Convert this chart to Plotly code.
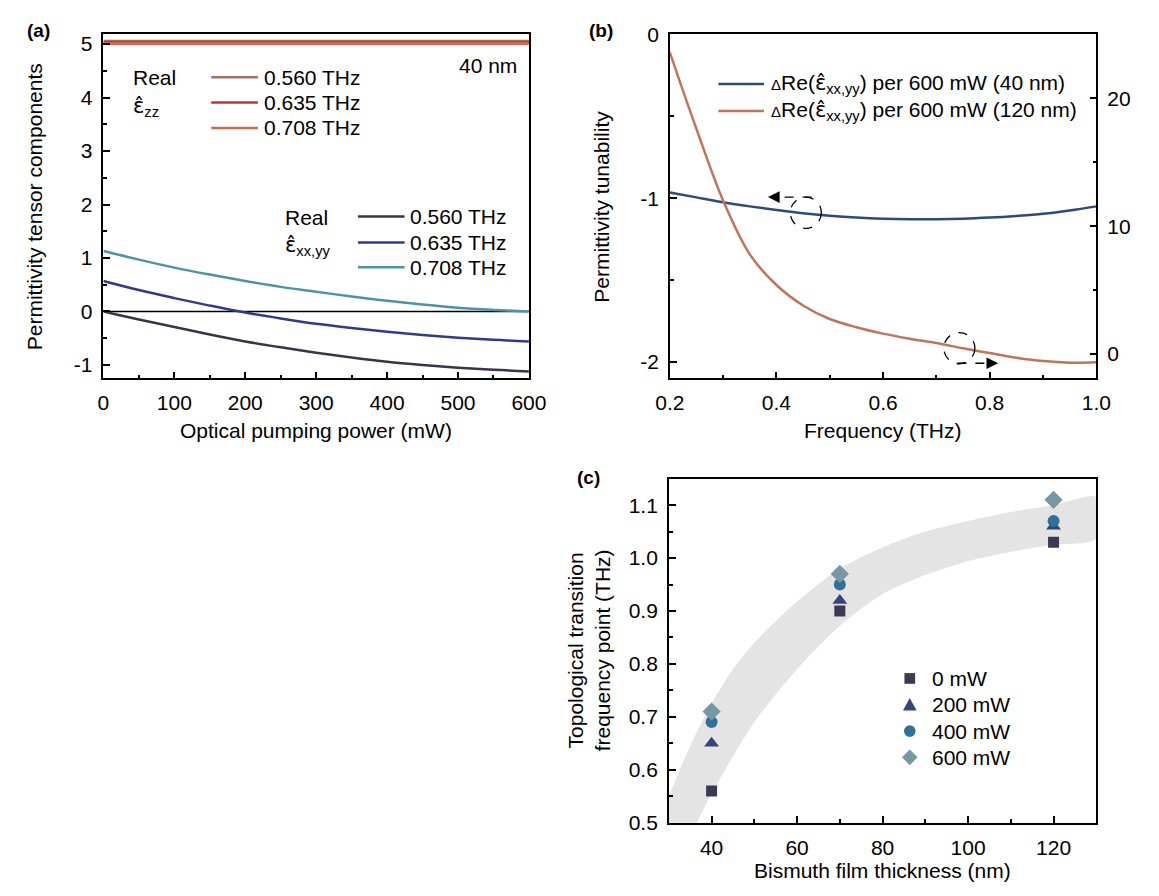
import plotly.graph_objects as go

W, H = 1159, 896

# ---------------- data: panel (a) ----------------
power_mw = [0, 50, 100, 150, 200, 250, 300, 350, 400, 450, 500, 550, 600]
zz_labels = ["0.560 THz", "0.635 THz", "0.708 THz"]
zz_0560 = [5.05, 5.05, 5.05, 5.05, 5.05, 5.05, 5.05, 5.05, 5.05, 5.05, 5.05, 5.05, 5.05]
zz_0635 = [5.03, 5.03, 5.03, 5.03, 5.03, 5.03, 5.03, 5.03, 5.03, 5.03, 5.03, 5.03, 5.03]
zz_0708 = [5.01, 5.01, 5.01, 5.01, 5.01, 5.01, 5.01, 5.01, 5.01, 5.01, 5.01, 5.01, 5.01]
xx_0560 = [0.0, -0.15, -0.29, -0.43, -0.56, -0.67, -0.77, -0.86, -0.94, -1.00, -1.05, -1.09, -1.12]
xx_0635 = [0.57, 0.40, 0.25, 0.11, -0.02, -0.13, -0.23, -0.31, -0.38, -0.44, -0.49, -0.53, -0.56]
xx_0708 = [1.13, 0.97, 0.82, 0.69, 0.57, 0.46, 0.37, 0.28, 0.20, 0.13, 0.07, 0.03, 0.0]
a_yticks = [-1, 0, 1, 2, 3, 4, 5]
a_xticks = [0, 100, 200, 300, 400, 500, 600]

# ---------------- data: panel (b) ----------------
freq_thz = [0.2, 0.25, 0.3, 0.35, 0.4, 0.45, 0.5, 0.55, 0.6, 0.65, 0.7, 0.75, 0.8, 0.85, 0.9, 0.95, 1.0]
tun_40nm = [-0.965, -0.995, -1.025, -1.05, -1.072, -1.092, -1.107, -1.118, -1.125, -1.128,
            -1.128, -1.125, -1.118, -1.108, -1.095, -1.075, -1.05]
tun_120nm = [23.6, 17.6, 12.0, 7.8, 5.4, 3.8, 2.74, 2.1, 1.6, 1.2, 0.86, 0.45, 0.08, -0.28,
             -0.55, -0.68, -0.64]
b_left_ticks = [-2, -1, 0]
b_right_ticks = [0, 10, 20]

# ---------------- data: panel (c) ----------------
thickness_nm = [40, 70, 120]
power_labels = ["0 mW", "200 mW", "400 mW", "600 mW"]
f_0mw = [0.56, 0.90, 1.03]
f_200mw = [0.65, 0.92, 1.06]
f_400mw = [0.69, 0.95, 1.07]
f_600mw = [0.71, 0.97, 1.11]
band_x = [30, 35, 40, 45, 50, 60, 70, 80, 90, 100, 110, 120, 130]
band_upper = [0.55, 0.645, 0.725, 0.79, 0.84, 0.918, 0.98, 1.02, 1.05, 1.07, 1.087, 1.10, 1.115]
band_lower = [0.40, 0.475, 0.555, 0.625, 0.69, 0.79, 0.872, 0.932, 0.968, 0.994, 1.012, 1.025, 1.037]

FONT = "Arial, 'Liberation Sans', sans-serif"
FS = 21
EPS = "<span style=\"font-family:'DejaVu Sans'\">\u03b5\u0302</span>"

C_ZZ = ["#a3705e", "#b83a2e", "#d4684c"]
C_XX = ["#3f3148", "#2f3a8f", "#4b93a8"]
C_B = ["#2e4a7d", "#c27458"]
MK = [("square", "#3b3a50", 11), ("triangle-up", "#34457a", 13),
      ("circle", "#2f7198", 12), ("diamond", "#7897a4", 14)]


def px(x):
    return x / W


def py(y):
    return 1 - y / H


fig = go.Figure()

# panel (a) traces
for vals, col in zip([zz_0560, zz_0635, zz_0708], C_ZZ):
    fig.add_trace(go.Scatter(x=power_mw, y=vals, mode="lines", line=dict(color=col, width=3),
                             xaxis="x", yaxis="y", showlegend=False))
for vals, col in zip([xx_0560, xx_0635, xx_0708], C_XX):
    fig.add_trace(go.Scatter(x=power_mw, y=vals, mode="lines",
                             line=dict(color=col, width=2.5, shape="spline", smoothing=1),
                             xaxis="x", yaxis="y", showlegend=False))

# panel (b) traces
fig.add_trace(go.Scatter(x=freq_thz, y=tun_40nm, mode="lines",
                         line=dict(color=C_B[0], width=2.5, shape="spline", smoothing=1),
                         xaxis="x2", yaxis="y2", showlegend=False))
fig.add_trace(go.Scatter(x=freq_thz, y=tun_120nm, mode="lines",
                         line=dict(color=C_B[1], width=2.5, shape="spline", smoothing=1),
                         xaxis="x2", yaxis="y3", showlegend=False))

# panel (c) traces
fig.add_trace(go.Scatter(x=band_x + band_x[::-1], y=band_upper + band_lower[::-1], mode="lines",
                         fill="toself", fillcolor="#e4e4e4",
                         line=dict(width=0, color="#e4e4e4", shape="spline", smoothing=0.8),
                         xaxis="x3", yaxis="y4", showlegend=False, hoverinfo="skip"))
for vals, lab, (sym, col, sz) in zip([f_0mw, f_200mw, f_400mw, f_600mw], power_labels, MK):
    fig.add_trace(go.Scatter(x=thickness_nm, y=vals, mode="markers", name=lab,
                             marker=dict(symbol=sym, color=col, size=sz, line=dict(width=0)),
                             xaxis="x3", yaxis="y4", showlegend=False))

tickfont = dict(family=FONT, size=FS, color="black")
common = dict(showline=True, linecolor="black", linewidth=1.5, ticks="inside", ticklen=7,
              tickwidth=1.5, tickcolor="black", showgrid=False, zeroline=False,
              tickfont=tickfont, ticklabelstandoff=5)
minor_common = dict(ticks="inside", ticklen=4, tickwidth=1.5, tickcolor="black", showgrid=False)

dom_a_x = [px(91), px(529)]
dom_b_x = [px(674), px(1113)]
dom_c_x = [px(673), px(1113)]
dom_top_y = [py(376), py(23)]
dom_c_y = [py(832), py(479)]

fig.update_layout(
    width=W, height=H, margin=dict(l=0, r=0, t=0, b=0),
    paper_bgcolor="white", plot_bgcolor="white",
    font=dict(family=FONT, size=FS, color="black"),
    showlegend=False,
    xaxis=dict(domain=dom_a_x, anchor="y", range=[0, 600], tickmode="array", tickvals=a_xticks,
               mirror=True, minor=dict(dtick=50, tick0=0, **minor_common), **common),
    yaxis=dict(domain=dom_top_y, anchor="x", range=[-1.25, 5.18], tickmode="array",
               tickvals=a_yticks, ticktext=[str(v) for v in a_yticks],
               mirror=True, minor=dict(dtick=0.5, tick0=0, **minor_common), **common),
    xaxis2=dict(domain=dom_b_x, anchor="y2", range=[0.2, 1.0], dtick=0.2, tick0=0.2, tickformat=".1f",
                mirror=True, minor=dict(dtick=0.1, tick0=0.2, **minor_common), **common),
    yaxis2=dict(domain=dom_top_y, anchor="x2", range=[-2.1, 0], tickmode="array",
                tickvals=b_left_ticks, ticktext=[str(v) for v in b_left_ticks],
                minor=dict(dtick=0.5, tick0=0, **minor_common), **common),
    yaxis3=dict(overlaying="y2", anchor="x2", side="right", range=[-1.9, 25], tickmode="array",
                tickvals=b_right_ticks, ticktext=[str(v) for v in b_right_ticks],
                minor=dict(dtick=5, tick0=0, **minor_common), **common),
    xaxis3=dict(domain=dom_c_x, anchor="y4", range=[30, 130], dtick=20, tick0=40,
                mirror=True, minor=dict(dtick=10, tick0=30, **minor_common), **common),
    yaxis4=dict(domain=dom_c_y, anchor="x3", range=[0.5, 1.15], dtick=0.1, tick0=0.5, tickformat=".1f",
                mirror=True, minor=dict(dtick=0.05, tick0=0.5, **minor_common), **common),
)

ann = []
shapes = []


def text(x, y, s, size=FS, xanchor="left", yanchor="middle", angle=0, bold=False):
    ann.append(dict(x=px(x), y=py(y), xref="paper", yref="paper", text=("<b>%s</b>" % s) if bold else s,
                    showarrow=False, xanchor=xanchor, yanchor=yanchor, textangle=angle,
                    font=dict(family=FONT, size=size, color="black")))


def key_line(x0, x1, y, color, width=2.5):
    shapes.append(dict(type="line", xref="paper", yref="paper", x0=px(x0), x1=px(x1), y0=py(y), y1=py(y),
                       line=dict(color=color, width=width)))


# zero reference line in (a)
shapes.append(dict(type="line", xref="x domain", yref="y", x0=0, x1=1, y0=0, y1=0,
                   line=dict(color="black", width=1.5), layer="below"))

# panel labels
text(10, 19, "(a)", size=19, bold=True)
text(589, 19, "(b)", size=19, bold=True)
text(576, 478, "(c)", size=19, bold=True)

# axis titles
text(310, 430, "Optical pumping power (mW)", xanchor="center")
text(893, 430, "Frequency (THz)", xanchor="center")
text(893, 881, "Bismuth film thickness (nm)", xanchor="center")
text(20, 200, "Permittivity tensor components", xanchor="center", angle=-90)
text(604, 200, "Permittivity tunability", xanchor="center", angle=-90)
text(591, 655, "Topological transition<br>frequency point (THz)", xanchor="center", angle=-90)

# panel (a) legends
text(119, 67, "Real")
text(119, 97, EPS + "<sub>zz</sub>")
for lab, col, yy in zip(zz_labels, C_ZZ, [67, 93, 119]):
    key_line(202, 250, yy, col)
    text(254, yy, lab)
text(519, 55, "40 nm", xanchor="right")

text(276, 211, "Real")
text(276, 240, EPS + "<sub>xx,yy</sub>")
for lab, col, yy in zip(zz_labels, C_XX, [210, 236.5, 262]):
    key_line(353, 401, yy, col)
    text(405, yy, lab)

# panel (b) legend
for lab, col, yy in zip(["(40 nm)", "(120 nm)"], C_B, [74, 101.5]):
    key_line(724, 771, yy, col)
    text(776, yy, "<span style='font-size:15px'>\u0394</span>Re(" + EPS + "<sub>xx,yy</sub>) per 600 mW " + lab)

# panel (c) legend (keys drawn in pixel space)
rows_c = [684, 711, 738, 765]
kx = 921
for (sym, col, sz), lab, yy in zip(MK, power_labels, rows_c):
    if sym == "square":
        h = 5.5
        shapes.append(dict(type="rect", xref="paper", yref="paper", x0=px(kx - h), x1=px(kx + h),
                           y0=py(yy + h), y1=py(yy - h), fillcolor=col, line=dict(width=0)))
    elif sym == "circle":
        r = 6
        shapes.append(dict(type="circle", xref="paper", yref="paper", x0=px(kx - r), x1=px(kx + r),
                           y0=py(yy + r), y1=py(yy - r), fillcolor=col, line=dict(width=0)))
    elif sym == "triangle-up":
        pts = [(kx - 7, yy + 6), (kx + 7, yy + 6), (kx, yy - 7)]
        path = "M %f,%f L %f,%f L %f,%f Z" % tuple(v for p in pts for v in (px(p[0]), py(p[1])))
        shapes.append(dict(type="path", xref="paper", yref="paper", path=path, fillcolor=col, line=dict(width=0)))
    else:
        pts = [(kx, yy - 8), (kx + 8, yy), (kx, yy + 8), (kx - 8, yy)]
        path = "M %f,%f L %f,%f L %f,%f L %f,%f Z" % tuple(v for p in pts for v in (px(p[0]), py(p[1])))
        shapes.append(dict(type="path", xref="paper", yref="paper", path=path, fillcolor=col, line=dict(width=0)))
    text(942, yy, lab)

# dashed circles and arrows in (b)
for cx, cy in [(814, 206), (972, 345)]:
    shapes.append(dict(type="circle", xref="paper", yref="paper", x0=px(cx - 16), x1=px(cx + 16),
                       y0=py(cy + 16), y1=py(cy - 16), line=dict(color="black", width=1.3, dash="dash")))
shapes.append(dict(type="line", xref="paper", yref="paper", x0=px(820), x1=px(784), y0=py(190), y1=py(190),
                   line=dict(color="black", width=1.3, dash="dash")))
shapes.append(dict(type="line", xref="paper", yref="paper", x0=px(970), x1=px(1002), y0=py(360.5), y1=py(360.5),
                   line=dict(color="black", width=1.3, dash="dash")))
ann.append(dict(x=px(775), y=py(190), xref="paper", yref="paper", ax=12, ay=0, text="", showarrow=True,
                arrowhead=2, arrowsize=1.8, arrowwidth=1.3, arrowcolor="black"))
ann.append(dict(x=px(1012), y=py(360.5), xref="paper", yref="paper", ax=-12, ay=0, text="", showarrow=True,
                arrowhead=2, arrowsize=1.8, arrowwidth=1.3, arrowcolor="black"))

fig.update_layout(annotations=ann, shapes=shapes)
fig.write_html("out.html", config={"displayModeBar": False},
               post_script="document.body.style.margin='0px';")
